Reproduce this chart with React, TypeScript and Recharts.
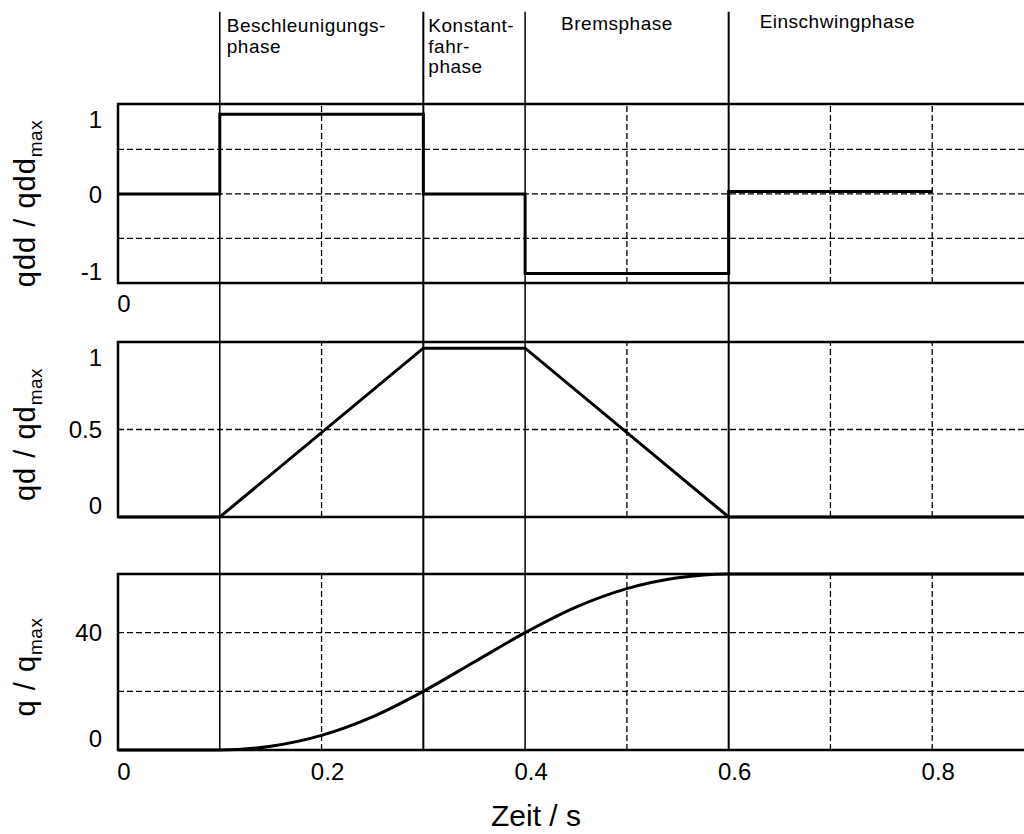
import {
  LineChart,
  Line,
  XAxis,
  YAxis,
  ReferenceLine,
  ReferenceArea,
} from "recharts";

// ==========================================
// DATA
// ==========================================

const timeDomain: [number, number] = [0, 0.9];
const timeTicks = [0, 0.2, 0.4, 0.6, 0.8];
const gridTimes = [0.2, 0.5, 0.7, 0.8];
const phaseTimes = [0.1, 0.3, 0.4, 0.6];
const phaseNames = [
  ["Beschleunigungs-", "phase"],
  ["Konstant-", "fahr-", "phase"],
  ["Bremsphase"],
  ["Einschwingphase"],
];

// acceleration qdd / qdd_max
const qddTime = [0, 0.1, 0.3, 0.4, 0.6, 0.8];
const qddValues = [0, 1, 0, -1, 0.03, 0.03];
const qddDomain: [number, number] = [-1.12, 1.13];
const qddTicks = [-1, 0, 1];
const qddGrid = [-0.56, 0, 0.56];

// velocity qd / qd_max
const qdTime = [0, 0.1, 0.3, 0.4, 0.6, 0.9];
const qdValues = [0, 0, 0.965, 0.965, 0, 0];
const qdDomain: [number, number] = [0, 1];
const qdTicks = [0, 0.5, 1];
const qdGrid = [0.5];

// position q / q_max
const qTime = [0, 0.1, 0.15, 0.2, 0.25, 0.3, 0.35, 0.4, 0.45, 0.5, 0.55, 0.6, 0.9];
const qValues = [0, 0, 1.3, 5, 11.3, 20, 30, 40, 48.7, 55, 58.7, 60, 60];
const qDomain: [number, number] = [0, 60];
const qTicks = [0, 40];
const qGrid = [20, 40];

// ==========================================
// STYLE
// ==========================================
const FONT = '"Liberation Sans", Arial, Helvetica, sans-serif';
const INK = "#000";
const CHART_W = 1040;
const AXIS_W = 118;

// label placement next to each phase line (dx from line, first baseline)
const phaseLabelPos = [
  { dx: 7, y: 32 },
  { dx: 5, y: 32 },
  { dx: 36, y: 30 },
  { dx: 31, y: 28 },
];

type Pt = { t: number; v: number };
const zip = (ts: number[], vs: number[]): Pt[] => ts.map((t, i) => ({ t, v: vs[i] }));

const makeYTick = (boxTop: number, boxBottom: number) => (props: any) => {
  const { x, y, payload } = props;
  // edge labels sit inside the frame, as in the original
  const cy = Math.min(Math.max(y, boxTop + 15), boxBottom - 12);
  return (
    <text x={x} y={cy} dy="0.36em" textAnchor="end" fontFamily={FONT} fontSize={24} fill={INK}>
      {payload.value}
    </text>
  );
};

const XTick = (props: any) => {
  const { x, y, payload } = props;
  return (
    <text x={x + 6} y={y} dy="0.71em" textAnchor="middle" fontFamily={FONT} fontSize={24} fill={INK}>
      {payload.value}
    </text>
  );
};

const makeYTitle = (main: string, shift: number) => (props: any) => {
  const vb = props.viewBox || {};
  const cx = 35;
  const cy = vb.y + vb.height / 2 + shift;
  return (
    <text
      transform={`rotate(-90 ${cx} ${cy})`}
      x={cx}
      y={cy}
      textAnchor="middle"
      fontFamily={FONT}
      fontSize={29}
      letterSpacing={1}
      fill={INK}
    >
      {main}
      <tspan dy={7} fontSize={19} letterSpacing={0.5}>
        max
      </tspan>
    </text>
  );
};

const makePhaseLabel = (i: number) => (props: any) => {
  const vb = props.viewBox || {};
  const pos = phaseLabelPos[i];
  return (
    <text fontFamily={FONT} fontSize={19} letterSpacing={0.5} fill={INK}>
      {phaseNames[i].map((line, k) => (
        <tspan key={k} x={vb.x + pos.dx} y={pos.y + k * 20.5}>
          {line}
        </tspan>
      ))}
    </text>
  );
};

const xTitle = (props: any) => {
  const vb = props.viewBox || {};
  return (
    <text
      x={vb.x + vb.width / 2 - 40}
      y={vb.y + 76}
      textAnchor="middle"
      fontFamily={FONT}
      fontSize={30}
      fill={INK}
    >
      Zeit / s
    </text>
  );
};

interface PanelProps {
  height: number;
  boxTop: number;
  boxBottom: number;
  data: Pt[];
  curve: "stepAfter" | "linear" | "monotone";
  domain: [number, number];
  yTicks: number[];
  grid: number[];
  phaseSpan: [number, number];
  title: string;
  titleShift: number;
  xTicks?: number[];
  xTickMargin?: number;
  withXTitle?: boolean;
  withPhaseLabels?: boolean;
}

function Panel({
  height,
  boxTop,
  boxBottom,
  data,
  curve,
  domain,
  yTicks,
  grid,
  phaseSpan,
  title,
  titleShift,
  xTicks,
  xTickMargin = 13,
  withXTitle,
  withPhaseLabels,
}: PanelProps) {
  return (
    <LineChart
      width={CHART_W}
      height={height}
      data={data}
      margin={{ top: boxTop, right: 6, bottom: 0, left: 0 }}
    >
      <XAxis
        dataKey="t"
        type="number"
        domain={timeDomain}
        ticks={xTicks ?? []}
        tick={xTicks ? <XTick /> : false}
        axisLine={false}
        tickLine={false}
        tickSize={0}
        tickMargin={xTickMargin}
        height={height - boxBottom}
        interval={0}
        label={withXTitle ? xTitle : undefined}
      />
      <YAxis
        type="number"
        domain={domain}
        ticks={yTicks}
        interval={0}
        width={AXIS_W}
        axisLine={false}
        tickLine={false}
        tickSize={0}
        tickMargin={16}
        tick={makeYTick(boxTop, boxBottom)}
        label={makeYTitle(title, titleShift)}
      />

      {grid.map((g) => (
        <ReferenceLine key={`h${g}`} y={g} stroke={INK} strokeWidth={1.3} strokeDasharray="6 3" />
      ))}
      {gridTimes.map((g) => (
        <ReferenceLine key={`v${g}`} x={g} stroke={INK} strokeWidth={1.3} strokeDasharray="6 3" />
      ))}

      <ReferenceArea
        x1={timeDomain[0]}
        x2={timeDomain[1]}
        y1={domain[0]}
        y2={domain[1]}
        fill="none"
        fillOpacity={0}
        stroke={INK}
        strokeWidth={2.5}
        ifOverflow="visible"
      />

      {phaseTimes.map((p, i) => (
        <ReferenceLine
          key={`p${p}`}
          segment={[
            { x: p, y: phaseSpan[0] },
            { x: p, y: phaseSpan[1] },
          ]}
          stroke={INK}
          strokeWidth={i % 2 === 1 ? 2 : 1.5}
          ifOverflow="visible"
          label={withPhaseLabels ? makePhaseLabel(i) : undefined}
        />
      ))}

      <Line
        type={curve}
        dataKey="v"
        stroke={INK}
        strokeWidth={3}
        dot={false}
        activeDot={false}
        isAnimationActive={false}
      />
    </LineChart>
  );
}

export default function App() {
  return (
    <div
      style={{
        position: "absolute",
        left: 0,
        top: 0,
        width: 1024,
        height: 834,
        overflow: "hidden",
        background: "#fff",
      }}
    >
      <div style={{ position: "absolute", left: 0, top: 0 }}>
        <Panel
          height={320}
          boxTop={104}
          boxBottom={283}
          data={zip(qddTime, qddValues)}
          curve="stepAfter"
          domain={qddDomain}
          yTicks={qddTicks}
          grid={qddGrid}
          phaseSpan={[2.29, -1.6]}
          title="qdd / qdd"
          titleShift={10}
          xTicks={[0]}
          xTickMargin={12}
          withPhaseLabels
        />
      </div>
      <div style={{ position: "absolute", left: 0, top: 320 }}>
        <Panel
          height={225}
          boxTop={22}
          boxBottom={197}
          data={zip(qdTime, qdValues)}
          curve="linear"
          domain={qdDomain}
          yTicks={qdTicks}
          grid={qdGrid}
          phaseSpan={[1.25, -0.2]}
          title="qd / qd"
          titleShift={5}
        />
      </div>
      <div style={{ position: "absolute", left: 0, top: 545 }}>
        <Panel
          height={289}
          boxTop={29}
          boxBottom={205}
          data={zip(qTime, qValues)}
          curve="monotone"
          domain={qDomain}
          yTicks={qTicks}
          grid={qGrid}
          phaseSpan={[72, 0]}
          title="q / q"
          titleShift={5}
          xTicks={timeTicks}
          withXTitle
        />
      </div>
    </div>
  );
}
